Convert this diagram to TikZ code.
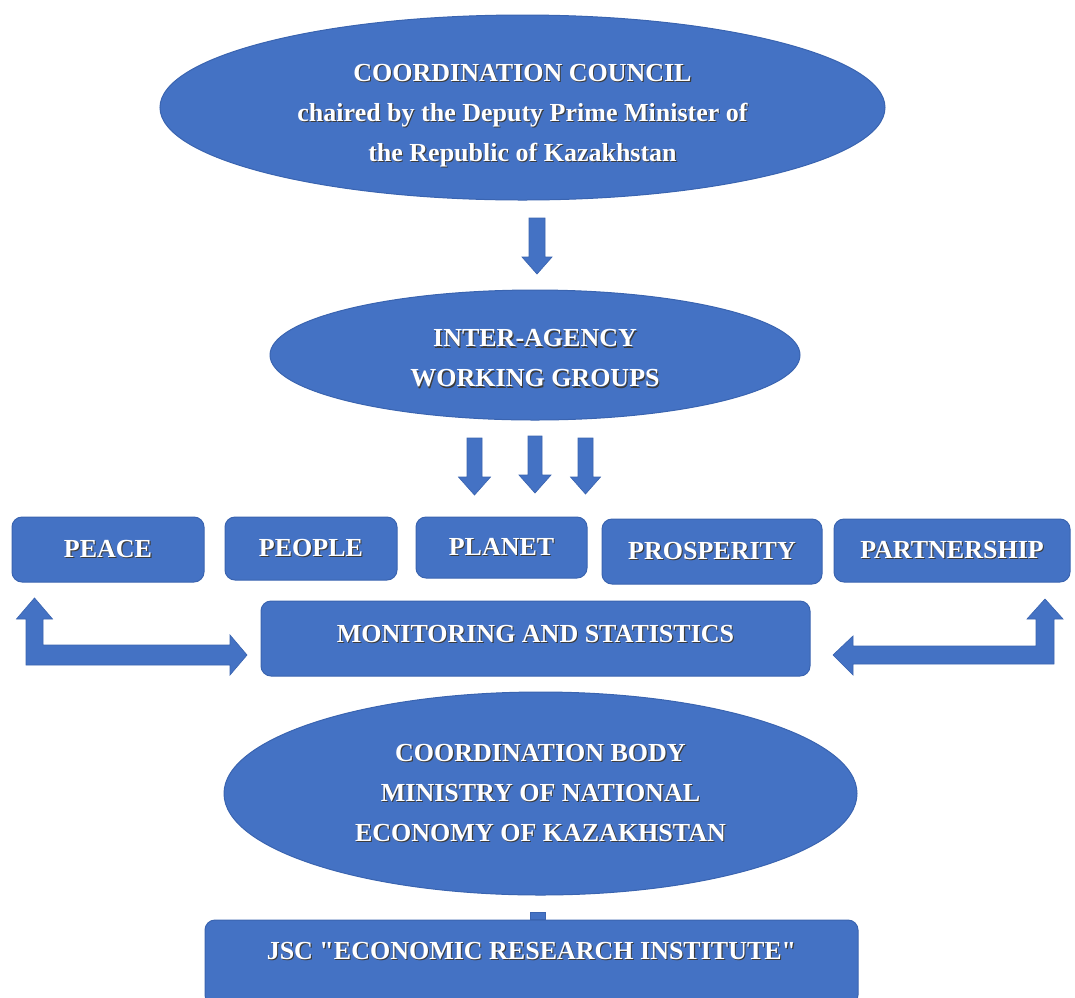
\documentclass[tikz,border=0pt]{standalone}
\usepackage{fontspec}
\setmainfont{Liberation Serif}[Ligatures=TeXOff]
\usetikzlibrary{shapes.geometric}
\definecolor{officeblue}{HTML}{4472C4}
\definecolor{edgeblue}{HTML}{3A64B0}
\definecolor{shade}{HTML}{3C3C3C}
\tikzset{label font/.style={text=white, font=\bfseries\fontsize{19.5pt}{30pt}\selectfont}}
\tikzset{blob/.style={ellipse, draw=edgeblue, fill=officeblue, line width=0.75pt, inner sep=0pt, align=center, label font}}
\tikzset{tag/.style={rectangle, rounded corners=7.5pt, draw=edgeblue, fill=officeblue, line width=0.75pt, inner sep=0pt, label font}}
\tikzset{block/.style={fill=officeblue, draw=edgeblue, line width=0.5pt}}
\newcommand{\shadowed}[1]{\rlap{\kern0.8pt\raisebox{-0.8pt}{\color{shade}#1}}#1}

\begin{document}
\begin{tikzpicture}[x=0.75pt, y=-0.75pt]
\useasboundingbox (0,0) rectangle (1075,997);
% ellipses
\node [blob, minimum width=543.75pt, minimum height=138.75pt] (council) at (522.5,107.5)
  {\rule{0pt}{26pt}\shadowed{COORDINATION COUNCIL}\\\shadowed{chaired by the Deputy Prime Minister of}\\\shadowed{the Republic of Kazakhstan}};
\node [blob, minimum width=397.5pt, minimum height=97.5pt] (groups) at (535,355)
  {\rule{0pt}{19pt}\shadowed{INTER-AGENCY}\\\shadowed{WORKING GROUPS}};
\node [blob, minimum width=474.75pt, minimum height=152.25pt] (body) at (540.5,793.5)
  {\shadowed{COORDINATION BODY}\\\shadowed{MINISTRY OF NATIONAL}\\\shadowed{ECONOMY OF KAZAKHSTAN}};
% the five goals
\foreach \name/\cx/\cy/\w/\h/\goal in {peace/108/549.5/144/48.75/PEACE, people/311/548.5/129/47.25/PEOPLE,
    planet/501.5/547.5/128.25/45.75/PLANET, prosperity/712/551.5/165/48.75/PROSPERITY,
    partnership/952/550.5/177/47.25/PARTNERSHIP}
  \node [tag, minimum width=\w pt, minimum height=\h pt] (\name) at (\cx,\cy) {\shadowed{\goal}};
\node [tag, minimum width=411.75pt, text height=30.75pt, text depth=25.5pt, anchor=base] (monitor) at (535.5,642)
  {\shadowed{MONITORING AND STATISTICS}};
\node [tag, minimum width=489.75pt, text height=29.25pt, text depth=34.5pt, anchor=base] (jsc) at (531.5,959)
  {\shadowed{JSC "ECONOMIC RESEARCH INSTITUTE"}};
% block arrows
\foreach \cx/\ya/\yb/\yc/\s/\hw in {537/218/257/274/8/15, 474.5/438/477/495/7.5/16,
    535/436/475/493/7/16, 585.5/438/477/494/7.5/15}
  \filldraw [block] (\cx-\s,\ya) -- (\cx+\s,\ya) -- (\cx+\s,\yb) -- (\cx+\hw,\yb) -- (\cx,\yc)
    -- (\cx-\hw,\yb) -- (\cx-\s,\yb) -- cycle;
\filldraw [block] (26,619) -- (16.5,619) -- (34.5,598) -- (52.5,619) -- (43,619) -- (43,645) -- (230,645)
  -- (230,635) -- (247,655) -- (230,675) -- (230,665) -- (26,665) -- cycle;
\filldraw [block] (1054,619) -- (1063,619) -- (1045,599) -- (1027,619) -- (1036,619) -- (1036,646) -- (853,646)
  -- (853,636) -- (833,655) -- (853,675) -- (853,664) -- (1054,664) -- cycle;
\path (jsc.north) ++(-1.5,0) coordinate (stub);
\filldraw [block] (stub) rectangle ++(15,-7);
\end{tikzpicture}
\end{document}
